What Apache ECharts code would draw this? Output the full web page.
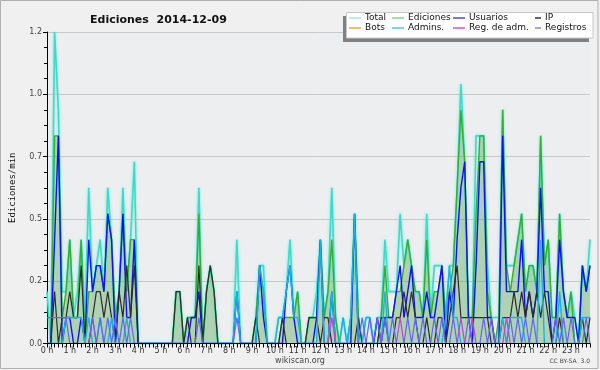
<!DOCTYPE html>
<html><head><meta charset="utf-8">
<script src="https://cdn.jsdelivr.net/npm/echarts@6/dist/echarts.min.js"></script>
<style>html,body{margin:0;padding:0;background:#f0f0f0}#c{width:600px;height:370px}</style>
</head><body><div id="c"></div><script>
// Each slot = 10 minutes, 144 slots over the day. Values in edits/min.
const hourLabels = ['0 h','1 h','2 h','3 h','4 h','5 h','6 h','7 h','8 h','9 h','10 h','11 h','12 h','13 h','14 h','15 h','16 h','17 h','18 h','19 h','20 h','21 h','22 h','23 h'];
const yTicks = [0, 0.24, 0.48, 0.72, 0.96, 1.2];

const total = [
0.2,0,1.2,0.9,0.2,0.2,0.4,0.1,0.2,0.4,0.1,0.6,
0.2,0.3,0.4,0.2,0.6,0.4,0.1,0.2,0.6,0.2,0.4,0.7,
0,0,0,0,0,0,0,0,0,0,0.2,0.2,
0,0.1,0.1,0.1,0.6,0,0.2,0.3,0.2,0,0,0,
0,0,0.4,0,0,0,0,0.1,0.3,0.3,0,0,
0,0.1,0.1,0.2,0.4,0.1,0.2,0,0,0.1,0.1,0.2,
0.4,0.1,0.2,0.6,0.1,0,0.1,0,0.1,0.5,0.1,0,
0.1,0.1,0,0.1,0.1,0.4,0.2,0.2,0.2,0.5,0.3,0.4,
0.3,0.2,0.2,0.1,0.5,0.1,0.3,0.3,0.3,0.1,0.3,0.3,
0.6,1.0,0.7,0.1,0.1,0.8,0.8,0.8,0.3,0.1,0.1,0.1,
0.9,0.3,0.3,0.3,0.4,0.5,0.2,0.3,0.3,0.2,0.8,0.3,
0.4,0.1,0.1,0.5,0.2,0.1,0.2,0.1,0,0.3,0.2,0.4
];
const ediciones = [
0,0,0.8,0.8,0.1,0.2,0.4,0.1,0.1,0.4,0,0.2,
0.2,0.3,0.3,0.2,0.5,0.4,0.1,0.2,0.5,0.2,0.4,0.4,
0,0,0,0,0,0,0,0,0,0,0.2,0.2,
0,0.1,0.1,0.1,0.5,0,0.2,0.3,0.2,0,0,0,
0,0,0,0,0,0,0,0.1,0.3,0.2,0,0,
0,0,0.1,0.1,0.1,0.1,0.2,0,0,0.1,0.1,0.1,
0.4,0.1,0.2,0.4,0.1,0,0,0,0.1,0.5,0.1,0,
0,0,0,0,0.1,0.3,0.1,0.1,0.2,0.2,0.3,0.4,
0.3,0.2,0.2,0.1,0.4,0.1,0.2,0.2,0.3,0.1,0.2,0.3,
0.6,0.9,0.7,0.1,0.1,0.5,0.8,0.8,0.2,0.1,0,0.1,
0.9,0.3,0.2,0.3,0.4,0.5,0.2,0.3,0.3,0.2,0.8,0.3,
0.4,0.1,0.1,0.5,0.2,0.1,0.2,0,0,0.3,0.2,0.3
];
const usuarios = [
0,0,0.4,0.8,0,0.1,0.1,0,0,0.1,0,0.4,
0.2,0.3,0.3,0.2,0.5,0.4,0,0.2,0.5,0.1,0.1,0.4,
0,0,0,0,0,0,0,0,0,0,0,0,
0,0,0.1,0.1,0.2,0,0,0,0,0,0,0,
0,0,0.2,0,0,0,0,0,0.3,0.1,0,0,
0,0,0,0.2,0.3,0.1,0,0,0,0,0,0.1,
0.4,0,0,0.2,0,0,0,0,0,0.5,0,0,
0,0,0,0.1,0,0.1,0.1,0.1,0.2,0.3,0.1,0.2,
0.3,0.1,0.1,0.1,0.2,0.1,0.1,0.2,0.3,0,0.2,0.1,
0.4,0.6,0.7,0.1,0,0.3,0.7,0.7,0.1,0.1,0,0,
0.8,0.2,0.2,0.2,0.2,0.4,0.1,0.2,0.1,0.2,0.6,0.2,
0.2,0,0.1,0.4,0.2,0.1,0.1,0.1,0,0.3,0.2,0.3
];
const ip = [
0,0,0.2,0,0.1,0.1,0.2,0.1,0.1,0.3,0,0,
0.1,0.2,0.2,0.1,0.2,0.1,0,0.2,0.1,0.3,0.1,0.3,
0,0,0,0,0,0,0,0,0,0,0.2,0.2,
0,0.1,0,0,0.3,0,0.2,0.3,0.2,0,0,0,
0,0,0,0,0,0,0,0.1,0,0,0,0,
0,0,0.1,0,0,0,0,0,0,0.1,0.1,0.1,
0,0.1,0.1,0,0,0,0,0,0,0,0.1,0,
0,0,0,0,0.1,0.1,0,0,0.1,0.1,0.2,0.1,
0.2,0.1,0,0,0.1,0,0,0.1,0.1,0,0.1,0.2,
0.3,0.1,0.1,0.1,0.1,0.1,0.1,0.1,0.1,0,0,0,
0.1,0.1,0.1,0.2,0.1,0.2,0.1,0.2,0.1,0.2,0.1,0.2,
0.1,0,0,0.1,0,0,0,0,0,0.1,0,0.1
];
const bots = [
0,0,0,0,0,0,0,0,0,0,0,0, 0,0,0,0,0,0,0,0,0,0,0,0,
0,0,0,0,0,0,0,0,0,0,0,0, 0,0,0,0,0,0,0,0,0,0,0,0,
0,0,0,0,0,0,0,0,0,0,0,0, 0,0,0,0,0,0,0,0,0,0,0,0,
0,0,0,0,0,0,0,0,0,0,0,0, 0,0,0,0,0,0,0,0,0,0,0,0,
0,0,0,0,0,0,0,0,0,0,0,0, 0,0,0,0,0,0,0,0,0,0,0,0,
0,0,0,0,0,0,0,0,0,0,0,0, 0,0,0,0,0,0,0,0,0,0,0,0
];
const admins = [
0,0,0,0,0,0.1,0.1,0.1,0.1,0.1,0,0.1,
0,0,0.1,0,0,0.1,0,0,0,0.1,0,0,
0,0,0,0,0,0,0,0,0,0,0,0,
0,0,0,0,0,0,0,0,0,0,0,0,
0,0,0.2,0,0,0,0,0,0.3,0.2,0,0,
0,0.1,0.1,0.2,0.3,0.1,0.1,0,0,0,0,0,
0.4,0,0,0.2,0,0,0.1,0,0.1,0.5,0,0,
0.1,0.1,0,0,0,0.2,0,0,0,0,0,0,
0,0,0,0,0,0,0,0,0,0.1,0.3,0.1,
0.1,0,0,0,0,0,0,0,0,0,0,0,
0.1,0,0.1,0.1,0.1,0.1,0,0,0,0,0.4,0,
0,0,0,0.2,0,0,0,0,0,0.1,0.1,0.1
];
const regAdm = [
0,0,0,0,0,0,0,0,0,0,0,0,
0.1,0,0,0,0,0,0,0,0,0,0,0,
0,0,0,0,0,0,0,0,0,0,0,0,
0,0,0,0,0,0,0,0,0,0,0,0,
0,0,0,0,0,0,0,0,0,0,0,0,
0,0,0,0,0,0,0,0,0,0,0,0,
0,0,0,0.1,0,0,0,0,0,0,0,0,
0,0,0,0,0,0,0,0,0,0.1,0,0,
0,0,0,0,0,0,0,0,0,0,0,0,
0,0.1,0,0,0.1,0,0,0,0,0,0,0,
0,0.1,0,0,0,0,0,0,0,0,0,0,
0,0,0,0,0,0,0,0,0,0,0,0
];
const registros = [
0.1,0.1,0.1,0.1,0.1,0.1,0,0,0,0,0,0,
0.1,0,0.1,0,0.1,0,0.1,0,0.1,0,0.1,0,
0,0,0,0,0,0,0,0,0,0,0,0,
0,0,0,0,0.1,0,0,0,0,0,0,0,
0,0,0.1,0,0,0,0,0,0,0,0,0,
0,0,0,0,0,0,0,0,0,0,0,0,
0,0,0,0,0,0,0,0,0,0,0,0.1,
0,0.1,0,0.1,0,0.1,0,0.1,0,0,0,0.1,
0,0.1,0,0.1,0,0,0.1,0,0.1,0,0,0.1,
0,0,0,0.1,0,0,0,0.1,0,0.1,0,0,
0,0,0.1,0,0.1,0,0.1,0,0.1,0,0,0,
0,0,0.1,0,0.1,0,0.1,0,0,0,0.1,0
];

const slots = [];
for (let i = 0; i < total.length; i++) slots.push(i);

const FONT = 'DejaVu Sans';
function ser(name, data, color, width, extra) {
  return Object.assign({
    name, type: 'line', data, symbol: 'none', smooth: false,
    lineStyle: { color, width }, itemStyle: { color },
    emphasis: { disabled: true }, silent: true
  }, extra || {});
}

const series = [
  ser('Total', total, '#38dccb', 1.6, { lineStyle: { color: '#38dccb', width: 1.6, shadowBlur: 3, shadowColor: 'rgba(64,224,208,0.6)' } }),
  ser('Ediciones', ediciones, '#30b030', 1.4, { areaStyle: { color: 'rgba(60,160,60,0.49)' } }),
  ser('Usuarios', usuarios, '#1010f0', 1.4),
  ser('IP', ip, '#2c2c2c', 1.2),
  ser('Bots', bots, '#f0a030', 1),
  ser('Admins.', admins, '#18b4e0', 1.4),
  ser('Reg. de adm.', regAdm, '#c83cd8', 1.2),
  ser('Registros', registros, '#6464f0', 1.2)
];

const legendCols = [349, 392, 453, 535];
const legendRows = [13.5, 23.5];
const legendItems = [
  ['Total', '#a8e8e0'], ['Ediciones', '#90d090'], ['Usuarios', '#4a4ae0'], ['IP', '#303030'],
  ['Bots', '#f0a040'], ['Admins.', '#50c8e0'], ['Reg. de adm.', '#d050e0'], ['Registros', '#8484ee']
];
const legends = legendItems.map((it, k) => ({
  data: [{ name: it[0], itemStyle: { color: it[1] } }],
  left: legendCols[k % 4], top: legendRows[Math.floor(k / 4)],
  icon: 'rect', itemWidth: (k % 4 === 3) ? 6 : 12, itemHeight: 1.5,
  padding: 0, selectedMode: false, z: 6,
  textStyle: { fontFamily: FONT, fontSize: 9, color: '#111', padding: [0, 0, 0, -1] }
}));

const chart = echarts.init(document.getElementById('c'), null, { renderer: 'canvas' });
chart.setOption({
  animation: false,
  backgroundColor: '#f0f0f0',
  title: {
    text: 'Ediciones  2014-12-09', left: 85, top: 10,
    textStyle: { fontFamily: FONT, fontWeight: 'bold', fontSize: 11, color: '#111' }
  },
  legend: legends,
  grid: { left: 46, right: 10, top: 32, bottom: 26.5, show: true, backgroundColor: '#eceef0', borderWidth: 0 },
  xAxis: {
    type: 'category', data: slots, boundaryGap: false, z: 10,
    axisLine: { lineStyle: { color: '#000', width: 1 } },
    axisTick: { interval: 0, length: 4, lineStyle: { color: '#000' } },
    axisLabel: {
      interval: (idx) => idx % 6 === 0,
      formatter: (v, idx) => hourLabels[idx / 6],
      fontFamily: FONT, fontSize: 8, color: '#333', margin: 3
    },
    splitLine: { show: false }
  },
  yAxis: {
    type: 'value', min: yTicks[0], max: yTicks[yTicks.length - 1], interval: yTicks[1],
    axisLine: { show: true, lineStyle: { color: '#000' } },
    axisTick: { show: true, length: 4, lineStyle: { color: '#000' } },
    minorTick: { show: true, splitNumber: 4, length: 3, lineStyle: { color: '#000' } },
    splitLine: { lineStyle: { color: '#c8c8c8', width: 1 } },
    axisLabel: { formatter: (v) => v.toFixed(1), fontFamily: FONT, fontSize: 8, color: '#444', margin: 5 },
    name: 'Ediciones/min', nameLocation: 'middle', nameGap: 30,
    nameTextStyle: { fontFamily: 'DejaVu Sans Mono', fontSize: 9, color: '#111' }
  },
  graphic: [
    { type: 'rect', shape: { x: 0.5, y: 0.5, width: 597.5, height: 368 }, style: { fill: 'none', stroke: '#b0b0b0', lineWidth: 1 }, z: 1 },
    { type: 'rect', shape: { x: 343, y: 16, width: 246, height: 26 }, style: { fill: '#808080' }, z: 4 },
    { type: 'rect', shape: { x: 346.5, y: 12.5, width: 246.5, height: 25.5 }, style: { fill: '#ffffff', stroke: '#c8c8c8', lineWidth: 1 }, z: 5 },
    { type: 'text', x: 300, y: 361, style: { text: 'wikiscan.org', font: '8px "DejaVu Sans"', fill: '#444', align: 'center', verticalAlign: 'middle' }, z: 5 },
    { type: 'text', x: 590, y: 361, style: { text: 'CC BY-SA  3.0', font: '6px "DejaVu Sans"', fill: '#444', align: 'right', verticalAlign: 'middle' }, z: 5 }
  ],
  series
});
</script></body></html>
